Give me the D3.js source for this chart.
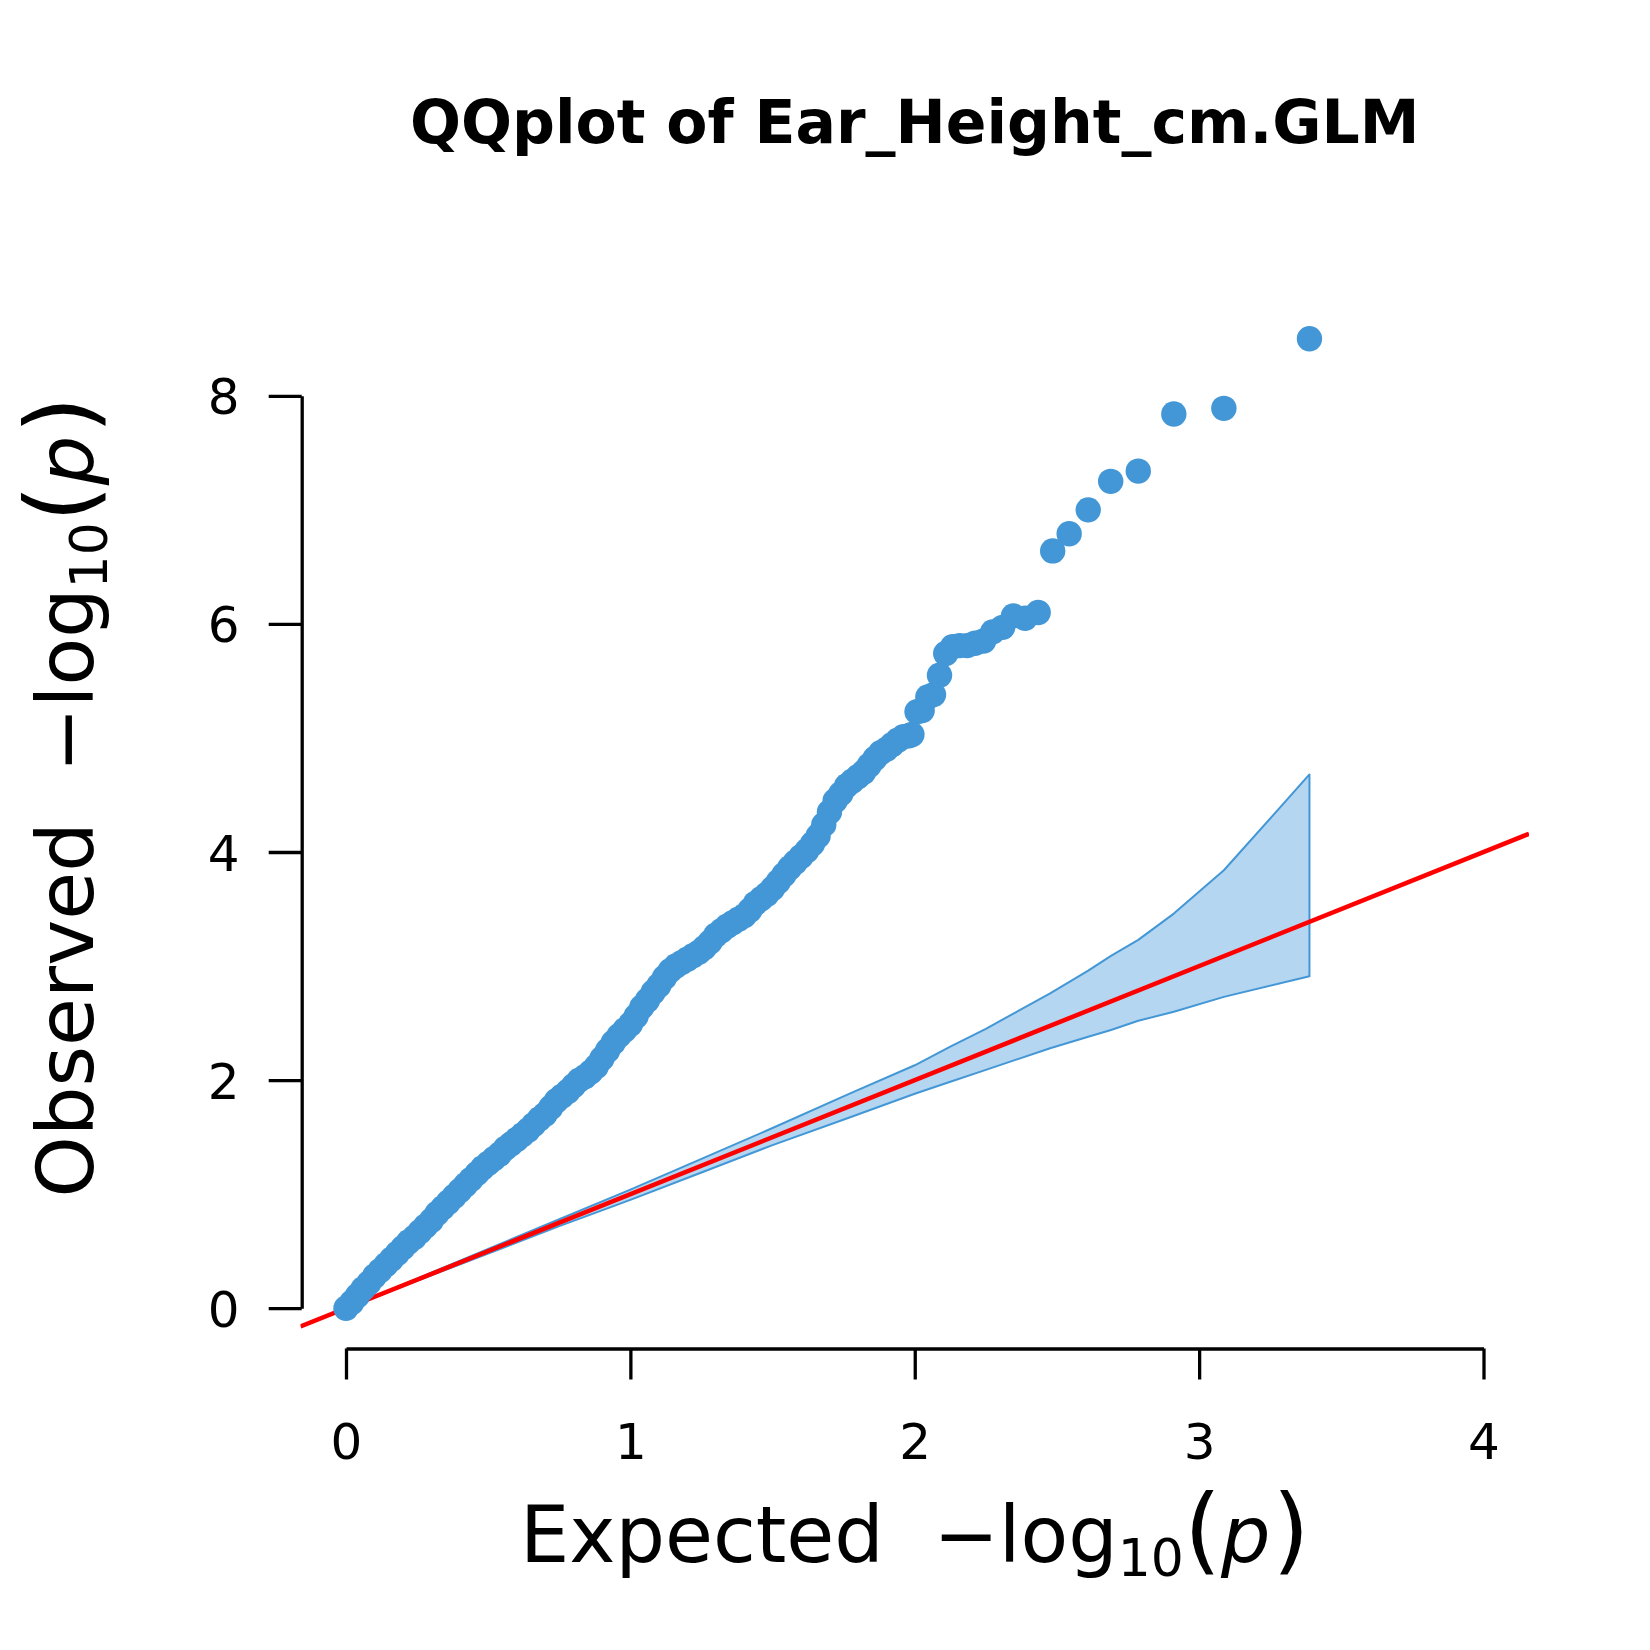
<!DOCTYPE html>
<html>
<head>
<meta charset="utf-8">
<script src="https://cdn.jsdelivr.net/npm/d3@7"></script>
<style>
  body { margin: 0; background: #fff; }
  svg text { font-family: "DejaVu Sans", sans-serif; white-space: pre; }
</style>
</head>
<body>
<svg id="chart" width="1650" height="1650"></svg>
<script>
// values: expected vs observed -log10(p)
var expected = [0.00, 0.02, 0.04, 0.06, 0.08, 0.10, 0.12, 0.14, 0.16, 0.18,
  0.20, 0.22, 0.24, 0.26, 0.28, 0.30, 0.32, 0.34, 0.36, 0.38,
  0.40, 0.42, 0.44, 0.46, 0.48, 0.50, 0.52, 0.54, 0.56, 0.58,
  0.60, 0.62, 0.64, 0.66, 0.68, 0.70, 0.72, 0.74, 0.76, 0.78,
  0.80, 0.82, 0.84, 0.86, 0.88, 0.90, 0.92, 0.94, 0.96, 0.98,
  1.00, 1.02, 1.04, 1.06, 1.08, 1.10, 1.12, 1.14, 1.16, 1.18,
  1.20, 1.22, 1.24, 1.26, 1.28, 1.30, 1.32, 1.34, 1.36, 1.38,
  1.40, 1.42, 1.44, 1.46, 1.48, 1.50, 1.52, 1.54, 1.56, 1.58,
  1.60, 1.62, 1.64, 1.66, 1.68, 1.70, 1.72, 1.74, 1.76, 1.78,
  1.80, 1.82, 1.84, 1.86, 1.88, 1.90, 1.92, 1.94, 1.96, 1.98,
  1.99, 2.008, 2.026, 2.046, 2.066, 2.087, 2.109, 2.133, 2.158, 2.184,
  2.212, 2.242, 2.274, 2.309, 2.347, 2.388, 2.434, 2.485, 2.543, 2.610,
  2.689, 2.786, 2.911, 3.087, 3.388];
var observed = [0.00, 0.05, 0.11, 0.17, 0.22, 0.28, 0.33, 0.38, 0.43, 0.48,
  0.53, 0.58, 0.62, 0.67, 0.72, 0.77, 0.83, 0.88, 0.93, 0.98,
  1.03, 1.08, 1.13, 1.18, 1.23, 1.27, 1.31, 1.35, 1.40, 1.44,
  1.48, 1.52, 1.56, 1.61, 1.66, 1.70, 1.76, 1.82, 1.86, 1.90,
  1.95, 2.00, 2.03, 2.07, 2.12, 2.19, 2.26, 2.33, 2.39, 2.44,
  2.49, 2.56, 2.64, 2.70, 2.77, 2.83, 2.90, 2.96, 3.00, 3.03,
  3.06, 3.09, 3.12, 3.16, 3.21, 3.27, 3.31, 3.35, 3.38, 3.41,
  3.44, 3.49, 3.55, 3.59, 3.63, 3.68, 3.74, 3.80, 3.86, 3.91,
  3.96, 4.01, 4.07, 4.14, 4.24, 4.35, 4.45, 4.51, 4.58, 4.62,
  4.66, 4.70, 4.76, 4.82, 4.87, 4.90, 4.94, 4.98, 5.01, 5.02,
  5.03, 5.23, 5.24, 5.36, 5.38, 5.55, 5.74, 5.80, 5.81, 5.81,
  5.83, 5.85, 5.93, 5.97, 6.07, 6.05, 6.10, 6.64, 6.79, 7.00,
  7.25, 7.34, 7.84, 7.89, 8.50];

// confidence band edges
var bandX     = [0, 0.25, 0.5, 0.75, 1.0, 1.25, 1.5, 1.773, 2.0, 2.125, 2.25, 2.476, 2.61, 2.69, 2.786, 2.911, 3.087, 3.388];
var bandUpper = [0, 0.26, 0.52, 0.78, 1.04, 1.31, 1.58, 1.884, 2.13, 2.293, 2.45, 2.761, 2.96, 3.09, 3.23, 3.46, 3.84, 4.68];
var bandLower = [0, 0.24, 0.48, 0.72, 0.95, 1.19, 1.43, 1.674, 1.88, 1.986, 2.09, 2.279, 2.38, 2.44, 2.52, 2.60, 2.73, 2.91];

var xTicks = [0, 1, 2, 3, 4];
var yTicks = [0, 2, 4, 6, 8];
var title = "QQplot of Ear_Height_cm.GLM";

var blue = "#4397d6";
var svg = d3.select("#chart");

// plot region, R style: limits padded 4%
var pLeft = 300.5, pRight = 1529, pTop = 300, pBottom = 1347;
var x = d3.scaleLinear().domain([-0.16, 4.16]).range([pLeft, pRight]);
var y = d3.scaleLinear().domain([-0.34, 8.84]).range([pBottom, pTop]);

svg.append("defs").append("clipPath").attr("id", "plotclip")
  .append("rect").attr("x", pLeft).attr("y", pTop)
  .attr("width", pRight - pLeft).attr("height", pBottom - pTop);

var plot = svg.append("g").attr("clip-path", "url(#plotclip)");

// band polygon: upper edge left to right, lower edge back
var bandPts = bandX.map((d, i) => [x(d), y(bandUpper[i])])
  .concat(bandX.map((d, i) => [x(d), y(bandLower[i])]).reverse());
plot.append("path")
  .attr("d", d3.line()(bandPts) + "Z")
  .attr("fill", "#b5d6f0")
  .attr("stroke", blue)
  .attr("stroke-width", 2)
  .attr("stroke-linejoin", "round");

// y = x reference line
plot.append("line")
  .attr("x1", x(-0.16)).attr("y1", y(-0.16))
  .attr("x2", x(4.16)).attr("y2", y(4.16))
  .attr("stroke", "#ff0000")
  .attr("stroke-width", 4.5);

plot.append("g").selectAll("circle")
  .data(expected)
  .join("circle")
    .attr("cx", d => x(d))
    .attr("cy", (d, i) => y(observed[i]))
    .attr("r", 12.7)
    .attr("fill", blue);

// axes only span the tick range, like base R
var xa = x.copy().domain([0, 4]).range([x(0), x(4)]);
var ya = y.copy().domain([0, 8]).range([y(0), y(8)]);

svg.append("g")
  .attr("transform", `translate(0,${pBottom + 1.5})`)
  .call(d3.axisBottom(xa).tickValues(xTicks).tickSize(31).tickSizeOuter(0).tickFormat(d3.format("d")))
  .call(g => g.select(".domain").attr("stroke-width", 3.3))
  .call(g => g.selectAll(".tick line").attr("stroke-width", 3.3))
  .call(g => g.selectAll(".tick text").attr("y", 110).attr("dy", 0)
    .attr("font-size", 50).attr("font-family", "DejaVu Sans").attr("fill", "#000"));

svg.append("g")
  .attr("transform", `translate(${pLeft + 1.2},0)`)
  .call(d3.axisLeft(ya).tickValues(yTicks).tickSize(33).tickSizeOuter(0).tickFormat(d3.format("d")))
  .call(g => g.select(".domain").attr("stroke-width", 3.3))
  .call(g => g.selectAll(".tick line").attr("stroke-width", 3.3))
  .call(g => g.selectAll(".tick text").attr("x", -78).attr("dy", "0.36em")
    .attr("text-anchor", "middle")
    .attr("font-size", 50).attr("font-family", "DejaVu Sans").attr("fill", "#000"));

svg.append("text")
  .attr("x", (pLeft + pRight) / 2).attr("y", 143)
  .attr("text-anchor", "middle")
  .attr("font-size", 60).attr("font-weight", "bold")
  .text(title);

// axis titles: "<name>  -log10(p)"
function axisTitle(g, name) {
  var t = g.append("text").attr("text-anchor", "middle").attr("font-size", 78);
  t.append("tspan").text(name + "  \u2212log");
  t.append("tspan").attr("font-size", 52).attr("dy", 14).text("10");
  t.append("tspan").attr("font-size", 95).attr("dy", -14).text("(");
  t.append("tspan").attr("font-style", "italic").text("p");
  t.append("tspan").attr("font-size", 95).attr("dx", 2).text(")");
}
axisTitle(svg.append("g").attr("transform", `translate(${(pLeft + pRight) / 2},1562)`), "Expected");
axisTitle(svg.append("g").attr("transform", "translate(93,797) rotate(-90)"), "Observed");
</script>
</body>
</html>
